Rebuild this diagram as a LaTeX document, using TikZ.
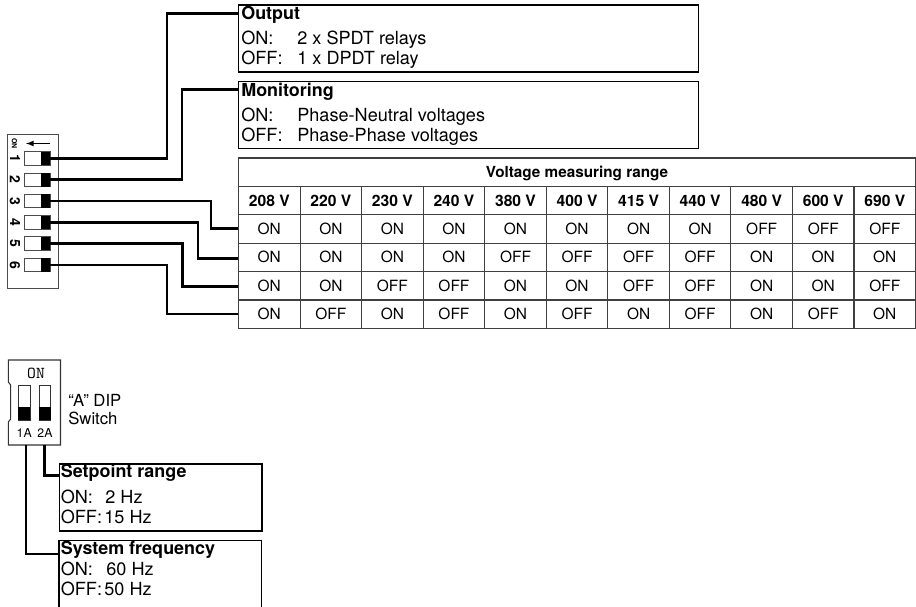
\documentclass[tikz,border=0pt]{standalone}
\usepackage{fontspec}
\setmainfont{TeX Gyre Heros}
\usetikzlibrary{positioning}
\tikzset{
    every node/.style={inner sep=0pt},
    infobox/.style={draw, line width=0.75pt, anchor=north west, minimum height=1.34cm},
    boxtext/.style={anchor=base west, font=\fontsize{10.3}{12}\selectfont},
    boxhead/.style={anchor=base west, font=\fontsize{10.2}{12}\selectfont\bfseries},
    cell/.style={draw=black!75, line width=0.6pt, minimum width=1.231cm, minimum height=0.568cm, anchor=north west,
        text height=6.3pt, text depth=0pt, font=\fontsize{8.8}{10}\selectfont},
    headcell/.style={cell, font=\fontsize{8.9}{10}\selectfont\bfseries},
    wire/.style={draw, line width=1.5pt},
    slider/.style={draw=black!70, line width=0.5pt, fill=white, minimum width=0.52cm, minimum height=0.27cm},
    tall/.style={draw=black!80, line width=0.5pt, fill=white, minimum width=0.23cm, minimum height=0.7cm}
}
\begin{document}
\begin{tikzpicture}[x=0.02cm,y=-0.02cm]
  \useasboundingbox (0,0) rectangle (916,607);

  % Output and monitoring boxes
  \node[infobox, minimum width=9.2cm] (output) at (238,4.5) {};
  \node[infobox, minimum width=9.2cm] (monitoring) at (238,81) {};
  \node[boxhead] (outtitle) at (241,20) {Output};
  \node[boxtext] (outon) at (241,45) {ON:};
  \node[boxtext] (outoff) at (241,65) {OFF:};
  \node[boxtext] (outona) at (297,45) {2 x SPDT relays};
  \node[boxtext] (outoffa) at (297,65) {1 x DPDT relay};
  \node[boxhead] (montitle) at (241,97) {Monitoring};
  \node[boxtext] (monon) at (241,122) {ON:};
  \node[boxtext] (monoff) at (241,142) {OFF:};
  \node[boxtext] (monona) at (297,122) {Phase-Neutral voltages};
  \node[boxtext] (monoffa) at (297,142) {Phase-Phase voltages};

  % Voltage table
  \node[headcell, minimum width=13.54cm, font=\fontsize{8.7}{10}\selectfont\bfseries] (title) at (238,157.5) {Voltage measuring range};
  \foreach \volt [count=\c from 0] in {208,220,230,240,380,400,415,440,480,600,690}
    \node[headcell] (h\c) at ({238+61.55*\c},185.9) {\volt\ V};
  \foreach \r/\vals in {0/{ON,ON,ON,ON,ON,ON,ON,ON,OFF,OFF,OFF},
      1/{ON,ON,ON,ON,OFF,OFF,OFF,OFF,ON,ON,ON},
      2/{ON,ON,OFF,OFF,ON,ON,OFF,OFF,ON,ON,OFF},
      3/{ON,OFF,ON,OFF,ON,OFF,ON,OFF,ON,OFF,ON}}
    \foreach \val [count=\c from 0] in \vals
      \node[cell] (c\r\c) at ({238+61.55*\c},{214.3+28.4*\r}) {\val};

  % DIP switch with six positions
  \node[draw=black!70, line width=0.6pt, minimum width=1.02cm, minimum height=3.08cm, anchor=north west] (dipa) at (7,134) {};
  \node[rotate=-90, font=\fontsize{4}{5}\selectfont\bfseries] (dipon) at (14.5,143.5) {ON};
  \coordinate (arrowr) at (50,143.5);
  \coordinate (arrowl) at (26,143.5);
  \draw[-latex, line width=0.5pt] (arrowr) -- (arrowl);
  \foreach \n/\y in {1/158.3,2/179.8,3/201,4/222.3,5/243.6,6/265}{
    \node[slider] (s\n) at (37,\y) {};
    \node[fill=black, minimum width=0.18cm, minimum height=0.27cm] (k\n) at (45.5,\y) {};
    \node[rotate=-90, font=\fontsize{8}{9}\selectfont\bfseries] (n\n) at (15,\y) {\n};
  }

  % Wires to the boxes
  \coordinate (a1) at (167,158.3);
  \coordinate (a2) at (182,179.8);
  \coordinate (a3) at (211,201);
  \coordinate (a4) at (198,222.3);
  \coordinate (a5) at (182.5,243.6);
  \coordinate (a6) at (167,265);
  \coordinate (b1) at (238,13.5);
  \coordinate (b2) at (238,89.5);
  \coordinate (b3) at (238,228.5);
  \coordinate (b4) at (238,258.5);
  \coordinate (b5) at (238,286.5);
  \coordinate (b6) at (238,314);
  \foreach \n in {1,...,6}
    \draw[wire] (k\n.center) -- (a\n) |- (b\n);

  % DIP switch A
  \draw[draw=black!80, line width=0.6pt] (8.3,360) -- (60.5,360) -- (60.5,445) -- (8.3,445) -- (8.3,422) -- (10.7,419) -- (10.7,385) -- (8.3,382) -- cycle;
  \node[font=\ttfamily\fontsize{9.5}{10}\selectfont] (aon) at (36,373) {ON};
  \foreach \n/\x in {1/24.2,2/45}{
    \node[tall] (t\n) at (\x,402.5) {};
    \node[fill=black, minimum width=0.23cm, minimum height=0.267cm] (tk\n) at (\x,413.4) {};
    \node[font=\fontsize{7}{8}\selectfont] (tl\n) at (\x,433.5) {\n A};
  }
  \node[anchor=base west, font=\fontsize{9.5}{12}\selectfont] (dipname) at (68,406.7) {``A'' DIP};
  \node[anchor=base west, font=\fontsize{9.5}{12}\selectfont] (dipname2) at (68,425) {Switch};

  % Setpoint and frequency boxes
  \node[infobox, minimum width=4.05cm] (setpoint) at (59,463.3) {};
  \coordinate (f1) at (59,607);
  \coordinate (f2) at (261.7,540.5);
  \coordinate (f3) at (261.7,607);
  \draw[line width=0.75pt] (f1) |- (f2) -- (f3);
  \node[boxhead] (settitle) at (60.5,478) {Setpoint range};
  \node[boxtext] (seton) at (60.5,503) {ON:};
  \node[boxtext] (setona) at (105,503) {2 Hz};
  \node[boxtext] (setoff) at (60.5,523) {OFF:};
  \node[boxtext] (setoffa) at (104,523) {15 Hz};
  \node[boxhead] (systitle) at (60.5,555) {System frequency};
  \node[boxtext] (syson) at (60.5,575) {ON:};
  \node[boxtext] (sysona) at (106,575) {60 Hz};
  \node[boxtext] (sysoff) at (60.5,595) {OFF:};
  \node[boxtext] (sysoffa) at (104,595) {50 Hz};

  \coordinate (w1) at (59,554);
  \coordinate (w2) at (59,475.7);
  \coordinate (p1) at (26,445);
  \coordinate (p2) at (44.3,445);
  \draw[wire] (p1) |- (w1);
  \draw[wire] (p2) |- (w2);
\end{tikzpicture}
\end{document}
